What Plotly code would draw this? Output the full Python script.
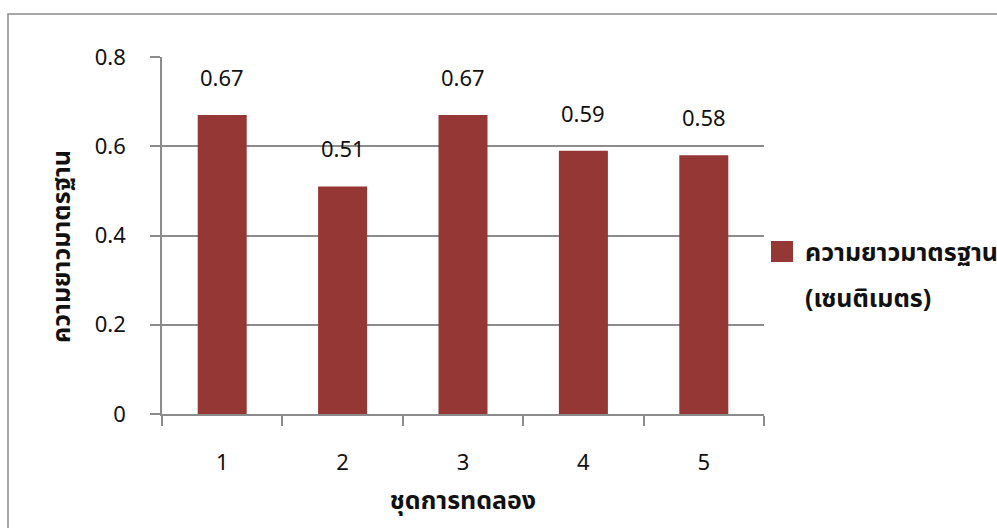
import plotly.graph_objects as go

# Experiment sets and their standard length (cm)
categories = ["1", "2", "3", "4", "5"]
std_length = [0.67, 0.51, 0.67, 0.59, 0.58]
legend_lines = ["ความยาวมาตรฐาน", "(เซนติเมตร)"]
y_title = "ความยาวมาตรฐาน"
x_title = "ชุดการทดลอง"
y_ticks = [0, 0.2, 0.4, 0.6, 0.8]
y_tick_text = ["0", "0.2", "0.4", "0.6", "0.8"]

BAR_COLOR = "#953735"
GRID = "#8c8c8c"
FONT = "Noto Sans, Noto Sans Thai, Tahoma, DejaVu Sans, sans-serif"

# plot-area geometry in pixels, used to place the legend box / border
L, R, T, B = 162, 764, 57, 414
W, H = R - L, B - T


def px_x(px):
    return (px - L) / W


def px_y(py):
    return (B - py) / H


fig = go.Figure()
fig.add_trace(go.Bar(
    x=categories, y=std_length, name=" ".join(legend_lines),
    marker=dict(color=BAR_COLOR, line=dict(width=0)),
    showlegend=False,
))

# value labels above each bar
for i, v in enumerate(std_length):
    fig.add_annotation(x=i, y=v, text=f"{v:.2f}", showarrow=False,
                       yshift=38, font=dict(size=22, color="#111", family=FONT))

# legend: colour key + two-line series name
fig.add_shape(type="rect", xref="paper", yref="paper",
              x0=px_x(771), x1=px_x(793), y0=px_y(262), y1=px_y(241),
              fillcolor=BAR_COLOR, line=dict(width=0))
for text, py in zip(legend_lines, [251, 297]):
    fig.add_annotation(xref="paper", yref="paper", x=px_x(803), y=px_y(py),
                       xanchor="left", yanchor="middle", text=f"<b>{text}</b>",
                       showarrow=False, font=dict(size=25, color="#111", family=FONT))

# vertical axis title
fig.add_annotation(xref="paper", yref="paper", x=px_x(60), y=px_y(247),
                   xanchor="center", yanchor="middle", textangle=-90,
                   text=f"<b>{y_title}</b>", showarrow=False,
                   font=dict(size=25, color="#111", family=FONT))

# outer chart border
fig.add_shape(type="rect", xref="paper", yref="paper",
              x0=px_x(8), x1=1.45, y0=-0.4, y1=px_y(14),
              line=dict(color="#8c8c8c", width=1.5), fillcolor="rgba(0,0,0,0)",
              layer="below")

fig.update_layout(
    width=997, height=528,
    margin=dict(l=L, r=997 - R, t=T, b=528 - B),
    paper_bgcolor="white", plot_bgcolor="white",
    bargap=0.593,
    font=dict(family=FONT, size=22, color="#111"),
    showlegend=False,
)
fig.update_xaxes(
    type="category", range=[-0.5, 4.5], tickson="boundaries",
    ticks="outside", ticklen=10, tickcolor=GRID, tickwidth=1.5,
    showline=True, linecolor=GRID, linewidth=1.5, showgrid=False,
    ticklabelstandoff=28, tickfont=dict(size=22),
    title=dict(text=f"<b>{x_title}</b>", standoff=16,
               font=dict(size=25)),
)
fig.update_yaxes(
    range=[0, 0.8], tickvals=y_ticks, ticktext=y_tick_text,
    ticks="outside", ticklen=10, tickcolor=GRID, tickwidth=1.5,
    showline=True, linecolor=GRID, linewidth=1.5,
    showgrid=True, gridcolor=GRID, gridwidth=1.5, zeroline=False,
    ticklabelstandoff=20, tickfont=dict(size=22),
)

fig.write_html("out.html")
